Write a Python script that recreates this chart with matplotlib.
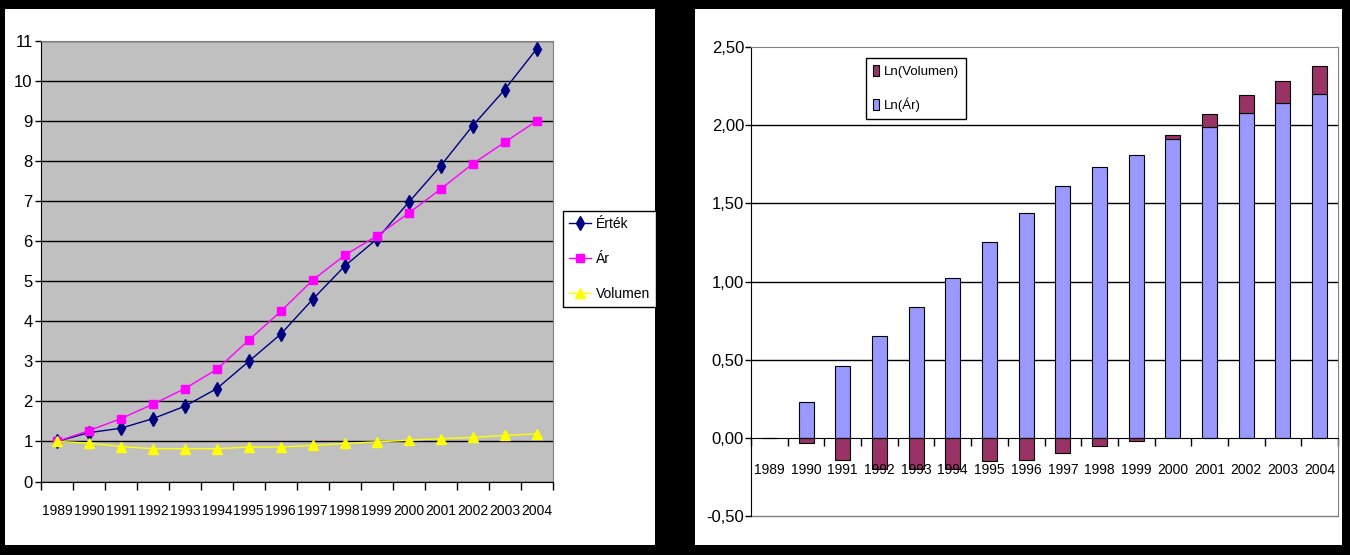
import matplotlib
matplotlib.use('Agg')
import matplotlib.pyplot as plt
from matplotlib import font_manager
from matplotlib.patches import Rectangle
import numpy as np

# ---------------- data ----------------
years = [str(y) for y in range(1989, 2005)]
ertek = [1.00, 1.22, 1.33, 1.57, 1.88, 2.32, 3.00, 3.68, 4.55, 5.38, 6.05, 6.97, 7.88, 8.88, 9.78, 10.80]
ar = [1.00, 1.27, 1.57, 1.93, 2.32, 2.80, 3.53, 4.25, 5.03, 5.65, 6.13, 6.70, 7.30, 7.93, 8.47, 9.00]
volumen = [1.00, 0.96, 0.87, 0.82, 0.82, 0.82, 0.86, 0.86, 0.90, 0.95, 0.99, 1.03, 1.07, 1.10, 1.15, 1.19]

ln_ar = [0.00, 0.23, 0.46, 0.65, 0.84, 1.02, 1.25, 1.44, 1.61, 1.73, 1.81, 1.91, 1.99, 2.08, 2.14, 2.20]
ln_vol = [0.00, -0.03, -0.14, -0.20, -0.20, -0.20, -0.15, -0.14, -0.10, -0.05, -0.02, 0.03, 0.08, 0.11, 0.14, 0.18]

left_yticks = list(range(0, 12))
right_yticks = [-0.5, 0.0, 0.5, 1.0, 1.5, 2.0, 2.5]
right_yticklabels = ['-0,50', '0,00', '0,50', '1,00', '1,50', '2,00', '2,50']


def pick_font(names):
    for n in names:
        try:
            font_manager.findfont(font_manager.FontProperties(family=n), fallback_to_default=False)
            return n
        except Exception:
            pass
    return 'DejaVu Sans'


FONT = pick_font(['Liberation Sans Narrow', 'Arial Narrow', 'Liberation Sans', 'DejaVu Sans'])
NARROW = FONT in ('Liberation Sans Narrow', 'Arial Narrow')
plt.rcParams['font.family'] = [FONT, 'DejaVu Sans']
FS = 13 if NARROW else 12
FSX = 13 if NARROW else 10
FSL = 12 if NARROW else 10
FSL2 = 12 if NARROW else 9.5

W, H = 1350, 555
fig = plt.figure(figsize=(W / 100, H / 100), dpi=100, facecolor='black')


def fx(px):
    return px / W


def fy(py):
    return (H - py) / H


# white panels
fig.patches.append(Rectangle((fx(5), fy(545)), fx(655) - fx(5), fy(9) - fy(545),
                             transform=fig.transFigure, facecolor='white', edgecolor='none', zorder=-5))
fig.patches.append(Rectangle((fx(695), fy(545)), fx(1342) - fx(695), fy(9) - fy(545),
                             transform=fig.transFigure, facecolor='white', edgecolor='none', zorder=-5))

GRAY = '#808080'

# ---------------- left chart ----------------
ax1 = fig.add_axes([fx(41), fy(481.5), fx(552.5) - fx(41), fy(41) - fy(481.5)])
ax1.set_zorder(2)
ax1.set_facecolor('#C0C0C0')
x = np.arange(len(years)) + 0.5
ax1.plot(x, ertek, color='#000080', marker='d', ms=7, lw=1, label='Érték', zorder=3)
ax1.plot(x, ar, color='#FF00FF', marker='s', ms=5.5, lw=1, label='Ár', zorder=3)
ax1.plot(x, volumen, color='#FFFF00', marker='^', ms=6.5, lw=1, label='Volumen', zorder=3)
ax1.set_xlim(0, len(years))
ax1.set_ylim(0, 11)
ax1.set_yticks(left_yticks)
ax1.set_yticklabels([str(v) for v in left_yticks])
ax1.yaxis.grid(True, color='black', lw=1)
ax1.set_xticks(x)
ax1.set_xticklabels(years)
ax1.set_xticks(np.arange(len(years) + 1), minor=True)
ax1.tick_params(axis='x', which='major', length=0, pad=16, labelsize=FSX)
ax1.tick_params(axis='x', which='minor', length=6, direction='out', width=1)
ax1.tick_params(axis='y', which='major', length=4, direction='out', pad=2, labelsize=FS, width=1)
for s in ['top', 'right']:
    ax1.spines[s].set_color(GRAY)
for s in ['left', 'bottom']:
    ax1.spines[s].set_color('black')
leg1 = ax1.legend(loc='upper left', bbox_to_anchor=(fx(563), fy(211)), bbox_transform=fig.transFigure,
                  fancybox=False, edgecolor='black', framealpha=1, borderaxespad=0, borderpad=0.45,
                  handlelength=1.6, handletextpad=0.3, labelspacing=1.5, prop={'size': FSL})
leg1.get_frame().set_linewidth(1)

# ---------------- right chart ----------------
ax2 = fig.add_axes([fx(751), fy(516), fx(1338) - fx(751), fy(47) - fy(516)])
ax2.set_zorder(2)
ax2.set_facecolor('white')
bw = 0.41
b_ar = ax2.bar(x, ln_ar, width=bw, color='#9999FF', edgecolor='black', lw=0.8, zorder=1, label='Ln(Ár)')
bottoms = [a if v >= 0 else 0 for a, v in zip(ln_ar, ln_vol)]
b_vol = ax2.bar(x, ln_vol, bottom=bottoms, width=bw, color='#993366', edgecolor='black', lw=0.8, zorder=1,
                label='Ln(Volumen)')
for gy in [0.5, 1.0, 1.5, 2.0]:
    ax2.axhline(gy, color='black', lw=1, zorder=0.5)
ax2.axhline(-0.5, color=GRAY, lw=1, zorder=0.5, clip_on=False)
ax2.set_xlim(0, len(years))
ax2.set_ylim(-0.5, 2.5)
ax2.set_yticks(right_yticks)
ax2.set_yticklabels(right_yticklabels)
ax2.spines['bottom'].set_position(('data', 0))
ax2.spines['bottom'].set_color('black')
ax2.spines['left'].set_color('black')
ax2.spines['top'].set_color(GRAY)
ax2.spines['right'].set_color(GRAY)
ax2.set_xticks(x)
ax2.set_xticklabels(years)
ax2.set_xticks(np.arange(len(years) + 1), minor=True)
ax2.tick_params(axis='x', which='major', length=0, pad=18, labelsize=FSX)
ax2.tick_params(axis='x', which='minor', length=6, direction='out', width=1)
ax2.tick_params(axis='y', which='major', length=4, direction='out', pad=1, labelsize=FS, width=1)
leg2 = ax2.legend(handles=[b_vol, b_ar], loc='upper left', bbox_to_anchor=(fx(866), fy(58)),
                  bbox_transform=fig.transFigure, fancybox=False, edgecolor='black', framealpha=1,
                  borderaxespad=0, borderpad=0.5, handlelength=0.45, handleheight=0.9, handletextpad=0.4,
                  labelspacing=1.5, prop={'size': FSL2})
leg2.get_frame().set_linewidth(1)

fig.savefig('out.png', dpi=100, facecolor='black')
